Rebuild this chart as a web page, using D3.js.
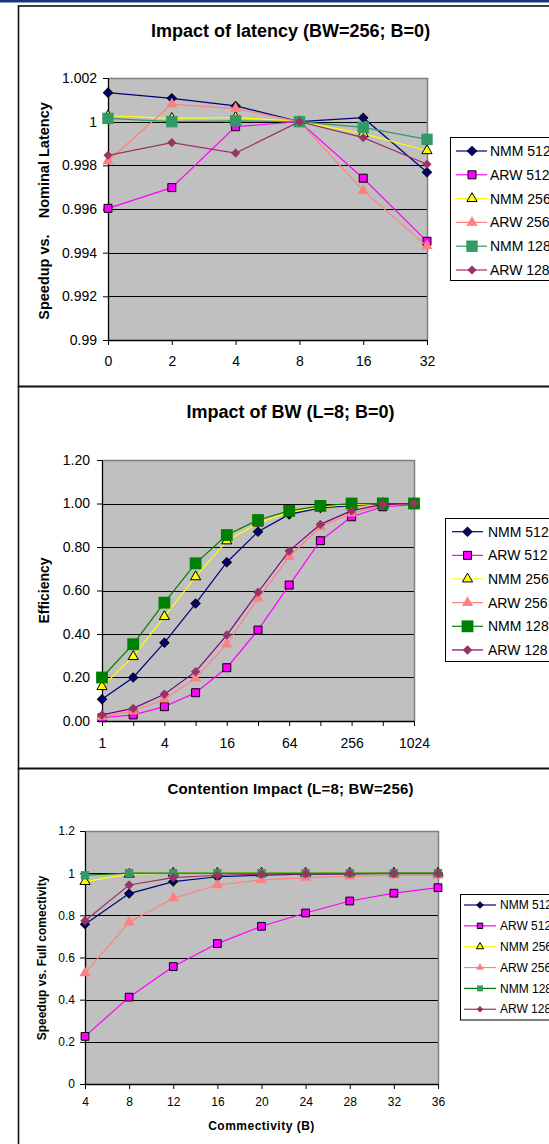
<!DOCTYPE html>
<html>
<head>
<meta charset="utf-8">
<script src="https://cdn.jsdelivr.net/npm/d3@7"></script>
<style>
body { margin: 0; background: #fff; }
svg { display: block; font-family: "Liberation Sans", Arial, sans-serif; }
</style>
</head>
<body>
<div id="chart"></div>
<script>
//------------------------------DATA------------------------------//
var seriesNames = ["NMM 512", "ARW 512", "NMM 256", "ARW 256", "NMM 128", "ARW 128"];

// panel 1 : impact of latency
var latCats = ["0", "2", "4", "8", "16", "32"];
var latTicks = [0.99, 0.992, 0.994, 0.996, 0.998, 1, 1.002];
var latNMM512 = [1.00133, 1.00107, 1.00072, 1.0, 1.00018, 0.99768];
var latARW512 = [0.99603, 0.99698, 0.99977, 1.0, 0.99741, 0.99452];
var latNMM256 = [1.00027, 1.00015, 1.00019, 1.0, 0.99945, 0.99867];
var latARW256 = [0.9982, 1.0008, 1.0006, 1.0, 0.99684, 0.9943];
var latNMM128 = [1.00015, 1.0, 1.00004, 1.0, 0.99974, 0.99919];
var latARW128 = [0.99846, 0.99904, 0.99856, 1.0, 0.99927, 0.99805];

// panel 2 : impact of BW
var bwCats = ["1", "2", "4", "8", "16", "32", "64", "128", "256", "512", "1024"];
var bwLabels = ["1", "4", "16", "64", "256", "1024"];
var bwTicks = [0, 0.2, 0.4, 0.6, 0.8, 1.0, 1.2];
var bwNMM512 = [0.10, 0.20, 0.36, 0.54, 0.73, 0.87, 0.95, 0.98, 0.99, 1.0, 1.0];
var bwARW512 = [0.015, 0.028, 0.066, 0.13, 0.245, 0.418, 0.625, 0.829, 0.939, 0.985, 0.995];
var bwNMM256 = [0.158, 0.296, 0.48, 0.663, 0.828, 0.91, 0.96, 0.985, 0.995, 1.0, 1.0];
var bwARW256 = [0.02, 0.045, 0.10, 0.196, 0.353, 0.564, 0.755, 0.893, 0.955, 0.99, 1.0];
var bwNMM128 = [0.2, 0.353, 0.544, 0.725, 0.855, 0.924, 0.966, 0.989, 1.0, 1.0, 1.0];
var bwARW128 = [0.028, 0.058, 0.123, 0.227, 0.395, 0.592, 0.782, 0.904, 0.967, 0.996, 1.0];

// panel 3 : contention
var conCats = ["4", "8", "12", "16", "20", "24", "28", "32", "36"];
var conTicks = [0, 0.2, 0.4, 0.6, 0.8, 1, 1.2];
var conNMM512 = [0.758, 0.903, 0.96, 0.983, 0.99, 0.995, 0.997, 1.0, 1.0];
var conARW512 = [0.226, 0.412, 0.557, 0.666, 0.748, 0.811, 0.868, 0.905, 0.931];
var conNMM256 = [0.96, 0.995, 1.0, 1.0, 1.0, 1.0, 1.0, 1.0, 1.0];
var conARW256 = [0.526, 0.767, 0.881, 0.944, 0.968, 0.979, 0.985, 0.99, 0.99];
var conNMM128 = [0.99, 1.0, 1.0, 1.0, 1.0, 1.0, 1.0, 1.0, 1.0];
var conARW128 = [0.774, 0.944, 0.979, 0.99, 0.995, 0.997, 0.998, 0.998, 0.998];

//-----------------------------SVG------------------------------//
var W = 549, H = 1144;
var svg = d3.select("#chart").append("svg")
    .attr("width", W)
    .attr("height", H);

// blue strip at the very top
svg.append("rect").attr("x", 0).attr("y", 0).attr("width", W).attr("height", 2.5).attr("fill", "#123c78");

// marker shapes (excel style: diamond = rotated square)
function markerPath(shape, size) {
    if (shape == "diamond") return d3.symbol().type(d3.symbolSquare).size(size)();
    if (shape == "triangle") return d3.symbol().type(d3.symbolTriangle).size(size)();
    return d3.symbol().type(d3.symbolSquare).size(size)();
}

function drawPanel(p) {
    // frame
    svg.append("rect")
        .attr("x", 18.5).attr("y", p.frameTop)
        .attr("width", 560).attr("height", p.frameBottom - p.frameTop)
        .attr("fill", "none").attr("stroke", "#111").attr("stroke-width", 1.6);

    // title
    svg.append("text")
        .attr("x", 290.6).attr("y", p.titleY)
        .attr("text-anchor", "middle")
        .style("font-size", p.titleSize + "px")
        .style("font-weight", "bold")
        .style("letter-spacing", p.titleSpacing || 0)
        .text(p.title);

    var x = d3.scalePoint().domain(p.cats).range([p.left, p.right]);
    var y = d3.scaleLinear().domain([p.ticks[0], p.ticks[p.ticks.length - 1]]).range([p.bottom, p.top]);

    // plot area
    svg.append("rect")
        .attr("x", p.left).attr("y", p.top)
        .attr("width", p.right - p.left).attr("height", p.bottom - p.top)
        .attr("fill", "#c0c0c0");

    // gridlines
    svg.selectAll(null)
        .data(p.ticks.slice(1, -1))
        .enter().append("line")
        .attr("x1", p.left).attr("x2", p.right)
        .attr("y1", function(d) { return Math.round(y(d)) + 0.5; })
        .attr("y2", function(d) { return Math.round(y(d)) + 0.5; })
        .attr("stroke", "#000").attr("stroke-width", 1);

    // gray border top & right
    svg.append("path")
        .attr("d", "M" + p.left + "," + (p.top + 0.5) + "H" + (p.right + 0.5) + "V" + p.bottom)
        .attr("fill", "none").attr("stroke", "#808080").attr("stroke-width", 1.5);

    // axes
    var yAxis = d3.axisLeft(y)
        .tickValues(p.ticks)
        .tickFormat(p.yFormat)
        .tickSize(5).tickSizeOuter(0)
        .tickPadding(p.yPad);
    var gy = svg.append("g")
        .attr("transform", "translate(" + p.left + ",0)")
        .call(yAxis);
    gy.selectAll("text").style("font-size", p.tickSize + "px").attr("fill", "#000");

    var xAxis = d3.axisBottom(x)
        .tickFormat(function(d) { return p.labels.indexOf(d) >= 0 ? d : ""; })
        .tickSize(5).tickSizeOuter(0)
        .tickPadding(p.xPad);
    var gx = svg.append("g")
        .attr("transform", "translate(0," + p.bottom + ")")
        .call(xAxis);
    gx.selectAll("text").style("font-size", p.tickSize + "px").attr("fill", "#000");

    [gx, gy].forEach(function(g) {
        g.select(".domain").attr("stroke", "#000").attr("stroke-width", 1.3);
        g.selectAll(".tick line").attr("stroke", "#000");
    });

    // axis titles
    svg.append("text")
        .attr("transform", "translate(" + p.yTitleX + "," + p.yTitleY + ") rotate(-90)")
        .attr("text-anchor", "middle")
        .attr("dy", "0.35em")
        .style("font-size", p.yTitleSize + "px")
        .style("font-weight", "bold")
        .style("white-space", "pre")
        .text(p.yTitle);

    if (p.xTitle) {
        svg.append("text")
            .attr("x", (p.left + p.right) / 2).attr("y", p.xTitleY)
            .attr("text-anchor", "middle")
            .style("font-size", p.xTitleSize + "px")
            .style("font-weight", "bold")
            .style("letter-spacing", "0.5px")
            .text(p.xTitle);
    }

    //----------------------------LINES-----------------------------//
    var line = d3.line()
        .x(function(d, i) { return x(p.cats[i]); })
        .y(function(d) { return y(d); });

    p.series.forEach(function(s) {
        svg.append("path")
            .attr("d", line(s.values))
            .attr("fill", "none")
            .attr("stroke", s.line)
            .attr("stroke-width", 1.2);

        svg.selectAll(null)
            .data(s.values)
            .enter().append("path")
            .attr("d", markerPath(s.shape, s.size))
            .attr("transform", function(d, i) {
                return "translate(" + x(p.cats[i]) + "," + y(d) + ")" + (s.shape == "diamond" ? " rotate(45)" : "");
            })
            .attr("fill", s.fill)
            .attr("stroke", s.stroke || "none")
            .attr("stroke-width", 1);
    });

    //----------------------------LEGEND----------------------------//
    var L = p.legend;
    svg.append("rect")
        .attr("x", L.x).attr("y", L.top)
        .attr("width", 200).attr("height", L.bottom - L.top)
        .attr("fill", "#fff").attr("stroke", "#000").attr("stroke-width", 1);

    p.series.forEach(function(s, i) {
        var ly = L.row0 + i * L.step;
        svg.append("line")
            .attr("x1", L.lineX1).attr("x2", L.lineX2)
            .attr("y1", ly).attr("y2", ly)
            .attr("stroke", s.line).attr("stroke-width", 1.2);
        svg.append("path")
            .attr("d", markerPath(s.shape, L.scale * s.size))
            .attr("transform", "translate(" + L.markX + "," + ly + ")" + (s.shape == "diamond" ? " rotate(45)" : ""))
            .attr("fill", s.fill)
            .attr("stroke", s.stroke || "none");
        svg.append("text")
            .attr("x", L.textX).attr("y", ly)
            .attr("dy", "0.35em")
            .style("font-size", L.fontSize + "px")
            .text(seriesNames[i]);
    });
}

//-------------------------2. DRAWING---------------------------//
drawPanel({
    frameTop: 6, frameBottom: 386.5,
    title: "Impact of latency (BW=256; B=0)", titleY: 36.5, titleSize: 18,
    cats: latCats, labels: latCats, ticks: latTicks,
    yFormat: function(d) { return d3.format("")(+d.toFixed(3)); },
    left: 108, right: 427, top: 78, bottom: 340,
    tickSize: 14, yPad: 6, xPad: 11,
    yTitle: "Speedup vs.    Nominal Latency", yTitleX: 43.8, yTitleY: 211, yTitleSize: 14.5,
    series: [
        { values: latNMM512, line: "#000080", fill: "#000080", stroke: "#000", shape: "diamond", size: 42 },
        { values: latARW512, line: "#ff00ff", fill: "#ff00ff", stroke: "#000", shape: "square", size: 64 },
        { values: latNMM256, line: "#ffff00", fill: "#ffff00", stroke: "#000", shape: "triangle", size: 45 },
        { values: latARW256, line: "#ff8080", fill: "#ff8080", shape: "triangle", size: 55 },
        { values: latNMM128, line: "#339966", fill: "#339966", shape: "square", size: 130 },
        { values: latARW128, line: "#993366", fill: "#993366", shape: "diamond", size: 42 }
    ],
    legend: { x: 450.5, top: 137.5, bottom: 280.5, row0: 151, step: 23.8,
              lineX1: 456, lineX2: 487, markX: 472, textX: 490, fontSize: 14, scale: 1 }
});

drawPanel({
    frameTop: 386.5, frameBottom: 768.5,
    title: "Impact of BW (L=8; B=0)", titleY: 418, titleSize: 18,
    cats: bwCats, labels: bwLabels, ticks: bwTicks,
    yFormat: d3.format(".2f"),
    left: 102, right: 414, top: 460, bottom: 721,
    tickSize: 14, yPad: 7, xPad: 12,
    yTitle: "Efficiency", yTitleX: 43.8, yTitleY: 590.5, yTitleSize: 14,
    series: [
        { values: bwNMM512, line: "#000080", fill: "#000080", stroke: "#000", shape: "diamond", size: 42 },
        { values: bwARW512, line: "#ff00ff", fill: "#ff00ff", stroke: "#000", shape: "square", size: 64 },
        { values: bwNMM256, line: "#ffff00", fill: "#ffff00", stroke: "#000", shape: "triangle", size: 45 },
        { values: bwARW256, line: "#ff8080", fill: "#ff8080", shape: "triangle", size: 55 },
        { values: bwNMM128, line: "#008000", fill: "#008000", shape: "square", size: 140 },
        { values: bwARW128, line: "#800080", fill: "#993366", shape: "diamond", size: 45 }
    ],
    legend: { x: 445.5, top: 518.5, bottom: 661.5, row0: 531.7, step: 23.65,
              lineX1: 452, lineX2: 483, markX: 467.5, textX: 488, fontSize: 14, scale: 1 }
});

drawPanel({
    frameTop: 768.5, frameBottom: 1160,
    title: "Contention Impact (L=8; BW=256)", titleY: 793.5, titleSize: 15, titleSpacing: "0.2px",
    cats: conCats, labels: conCats, ticks: conTicks,
    yFormat: function(d) { return d3.format("")(+d.toFixed(1)); },
    left: 85, right: 438, top: 831, bottom: 1084,
    tickSize: 12, yPad: 5, xPad: 8,
    yTitle: "Speedup vs. Full comectivity", yTitleX: 42, yTitleY: 958, yTitleSize: 12,
    xTitle: "Commectivity (B)", xTitleY: 1129.5, xTitleSize: 12,
    series: [
        { values: conNMM512, line: "#000080", fill: "#000080", stroke: "#000", shape: "diamond", size: 40 },
        { values: conARW512, line: "#ff00ff", fill: "#ff00ff", stroke: "#000", shape: "square", size: 60 },
        { values: conNMM256, line: "#ffff00", fill: "#ffff00", stroke: "#000", shape: "triangle", size: 45 },
        { values: conARW256, line: "#ff8080", fill: "#ff8080", shape: "triangle", size: 55 },
        { values: conNMM128, line: "#008000", fill: "#339966", shape: "square", size: 70 },
        { values: conARW128, line: "#993366", fill: "#993366", shape: "diamond", size: 45 }
    ],
    legend: { x: 460.5, top: 894.5, bottom: 1020, row0: 905, step: 20.85,
              lineX1: 464, lineX2: 496, markX: 480, textX: 500, fontSize: 12, scale: 0.5 }
});
</script>
</body>
</html>
